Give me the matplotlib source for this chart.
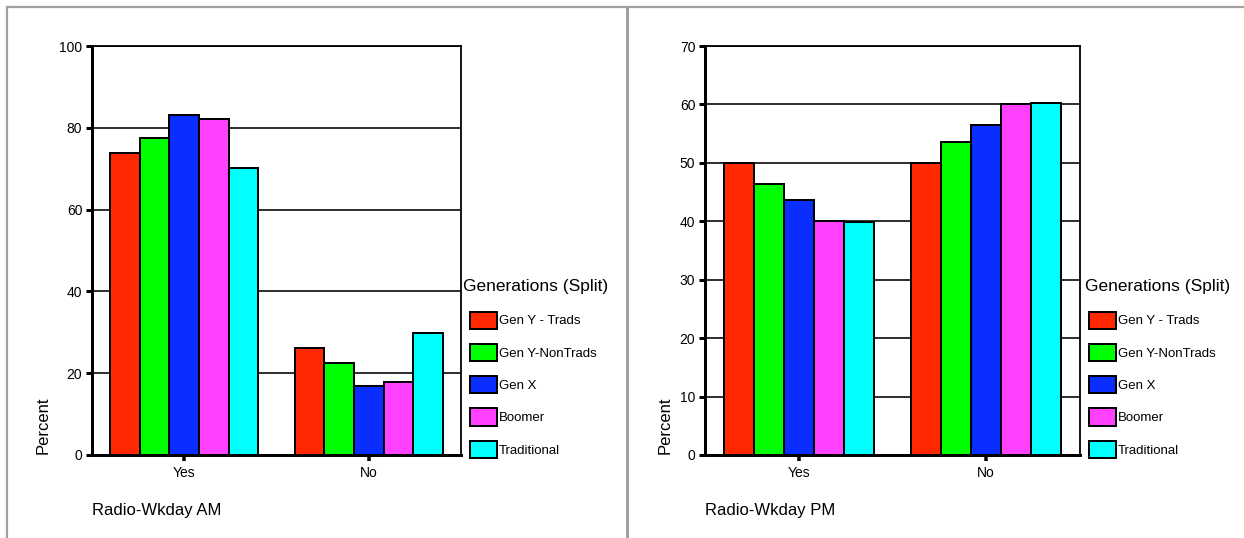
import matplotlib
matplotlib.use("Agg")
import matplotlib.pyplot as plt
from matplotlib.lines import Line2D
import numpy as np

plt.rcParams['font.family'] = ['Liberation Sans', 'DejaVu Sans']

# ---- data ----
categories = ["Yes", "No"]
generations = ["Gen Y - Trads", "Gen Y-NonTrads", "Gen X", "Boomer", "Traditional"]
colors = ["#ff2800", "#00ff00", "#0a2eff", "#ff40ff", "#00ffff"]

am_yes = [73.9, 77.6, 83.1, 82.2, 70.2]
am_no = [26.1, 22.4, 16.9, 17.8, 29.8]
pm_yes = [50.0, 46.4, 43.6, 40.0, 39.8]
pm_no = [50.0, 53.6, 56.4, 60.0, 60.2]

am_ticks = [0, 20, 40, 60, 80, 100]
pm_ticks = [0, 10, 20, 30, 40, 50, 60, 70]

W, H = 1244, 538
fig = plt.figure(figsize=(W / 100, H / 100), dpi=100)
fig.patch.set_facecolor("white")

PX = 0.72  # one pixel in points


def fx(px):
    return px / W


def fy(py):
    return 1 - py / H


# panel frame lines
frame_kw = dict(color="#a0a0a0", linewidth=2.2 * PX, transform=fig.transFigure)
fig.add_artist(Line2D([fx(7), 1], [fy(7), fy(7)], **frame_kw))
fig.add_artist(Line2D([fx(7), fx(7)], [fy(7), 0], **frame_kw))
fig.add_artist(Line2D([fx(627), fx(627)], [fy(7), 0], color="#a0a0a0",
                      linewidth=3 * PX, transform=fig.transFigure))


def panel(left, right, yes_vals, no_vals, ticks, xlabel, ylab_x, leg_x, title_x):
    ax = fig.add_axes([fx(left), fy(455), fx(right - left), (455 - 46) / H])
    ax.set_axisbelow(True)
    x = np.arange(len(categories))
    bw = 0.16
    series = list(zip(yes_vals, no_vals))
    handles = []
    for i, (vals, c, name) in enumerate(zip(series, colors, generations)):
        b = ax.bar(x + (i - 2) * bw, vals, width=bw, color=c,
                   edgecolor="black", linewidth=2 * PX, label=name, zorder=3)
        handles.append(b)
    ax.set_xlim(-0.5, 1.5)
    ax.set_ylim(ticks[0], ticks[-1])
    ax.set_yticks(ticks)
    ax.set_xticks(x)
    ax.set_xticklabels(categories)
    ax.tick_params(axis="y", direction="out", length=4, width=3 * PX,
                   labelsize=10, pad=3)
    ax.tick_params(axis="x", direction="out", length=4, width=3.5 * PX,
                   labelsize=10, pad=4)
    ax.yaxis.grid(True, color="black", linewidth=1.6 * PX, zorder=0)
    for s in ("left", "bottom"):
        ax.spines[s].set_linewidth(3 * PX)
    for s in ("top", "right"):
        ax.spines[s].set_linewidth(1.8 * PX)

    fig.text(ylab_x, fy(454), "Percent", rotation=90, fontsize=12,
             ha="center", va="bottom")
    fig.text(fx(left), fy(510), xlabel, fontsize=12, ha="left", va="center")

    fig.text(title_x, fy(287), "Generations (Split)", fontsize=12.5,
             ha="left", va="center")
    ax.legend(handles=handles, loc="upper left",
              bbox_to_anchor=(leg_x, fy(311.5)),
              bbox_transform=fig.transFigure,
              frameon=False, fontsize=9.5, borderpad=0, borderaxespad=0,
              handlelength=2.05, handleheight=1.65, handletextpad=0.15,
              labelspacing=1.13)
    return ax


panel(92, 461, am_yes, am_no, am_ticks, "Radio-Wkday AM", fx(43), fx(470), fx(463))
panel(705, 1080, pm_yes, pm_no, pm_ticks, "Radio-Wkday PM", fx(665), fx(1089), fx(1085))

fig.savefig("out.png", dpi=100, facecolor="white")
